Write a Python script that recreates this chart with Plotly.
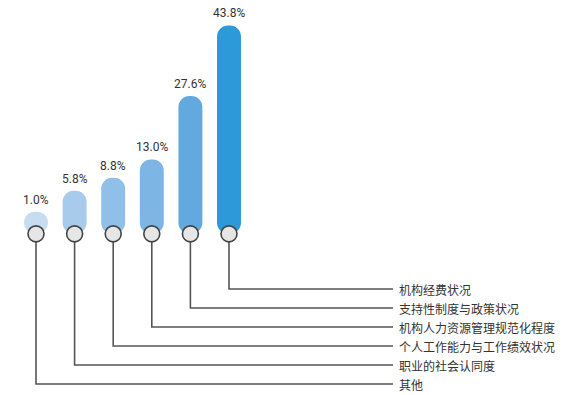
import plotly.graph_objects as go

categories = ["其他", "职业的社会认同度", "个人工作能力与工作绩效状况",
              "机构人力资源管理规范化程度", "支持性制度与政策状况", "机构经费状况"]
values = [1.0, 5.8, 8.8, 13.0, 27.6, 43.8]
value_labels = ["1.0%", "5.8%", "8.8%", "13.0%", "27.6%", "43.8%"]
colors = ["#c8dcf0", "#a8cbec", "#90bfe8", "#7db5e4", "#62a9df", "#2c9ad8"]

# layout geometry (pixel -> axis mapping)
W, H = 565, 395
px_per_cat = 38.6
x0_px = 36
px_per_pct = 4.35
zero_px = 216
base = -4.1  # bars start a little below zero so small values are visible

def ypx(p):
    return (zero_px - p) / px_per_pct

def xpx(p):
    return (p - x0_px) / px_per_cat

idx = list(range(len(values)))
fig = go.Figure()

fig.add_trace(go.Bar(
    x=idx, y=[v - base for v in values], base=[base] * len(values),
    marker=dict(color=colors, line=dict(width=0)),
    width=0.62, hoverinfo="skip",
))

line_color = "#555555"
label_x = xpx(393)
for i in idx:
    level = ypx(384 - i * 19)
    fig.add_trace(go.Scatter(
        x=[i, i, label_x], y=[base, level, level], mode="lines",
        line=dict(color=line_color, width=1.6), hoverinfo="skip",
    ))
    fig.add_annotation(x=xpx(397), y=level, text=categories[i], showarrow=False,
                       xanchor="left", yanchor="middle",
                       font=dict(family="Noto Sans CJK SC", size=12, color="#333333"))
    fig.add_annotation(x=i, y=values[i], text=value_labels[i], showarrow=False,
                       xanchor="center", yanchor="bottom", yshift=3,
                       font=dict(family="Liberation Sans Narrow, Roboto", size=12, color="#333333"))

fig.add_trace(go.Scatter(
    x=idx, y=[base] * len(values), mode="markers",
    marker=dict(size=16, color="#e6e6e6", line=dict(color="#444444", width=1.6)),
    hoverinfo="skip",
))

fig.update_layout(
    width=W, height=H, margin=dict(l=0, r=0, t=0, b=0),
    paper_bgcolor="white", plot_bgcolor="white", showlegend=False,
    barcornerradius="50%",
    xaxis=dict(range=[xpx(0), xpx(W)], visible=False, fixedrange=True),
    yaxis=dict(range=[ypx(H), ypx(0)], visible=False, fixedrange=True),
)

fig.write_html("out.html", config={"displayModeBar": False},
               post_script="document.body.style.margin='0';document.body.style.overflow='hidden';")
